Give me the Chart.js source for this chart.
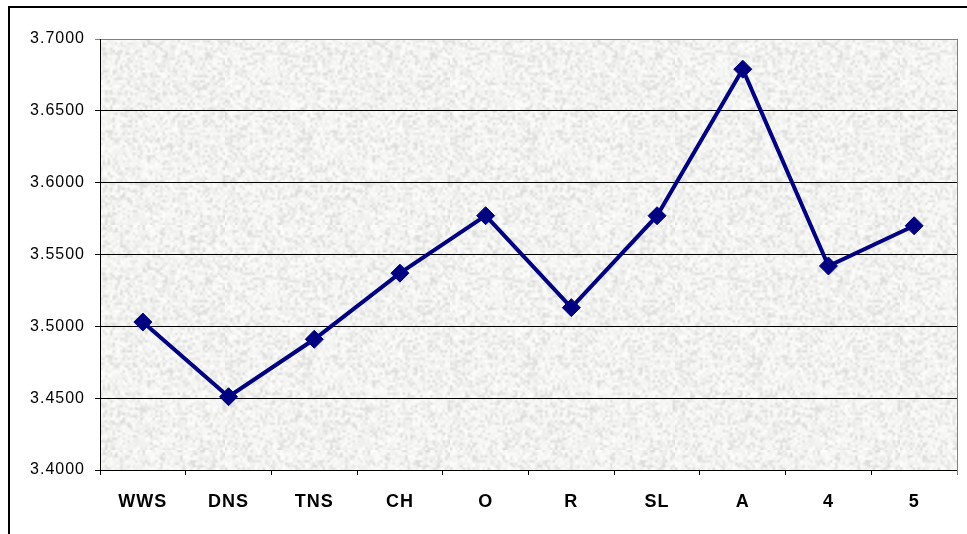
<!DOCTYPE html>
<html>
<head>
<meta charset="utf-8">
<script src="https://cdn.jsdelivr.net/npm/chart.js@4/dist/chart.umd.min.js"></script>
<style>
  html, body { margin: 0; padding: 0; background: #ffffff; }
  #wrap { width: 967px; height: 534px; }
</style>
</head>
<body>
<div id="wrap"><canvas id="c" width="967" height="534"></canvas></div>
<script>
// Categories along the x axis
const categories = ['WWS', 'DNS', 'TNS', 'CH', 'O', 'R', 'SL', 'A', '4', '5'];
// Mean score per category
const scores = [3.503, 3.451, 3.491, 3.537, 3.577, 3.513, 3.577, 3.679, 3.542, 3.570];
// Value axis range and step
const yMin = 3.4;
const yMax = 3.7;
const yStep = 0.05;

// Light granite-like fill for the plot area, built from a small seeded hash
function makeGranite(ctx) {
  const small = document.createElement('canvas');
  small.width = 90; small.height = 90;
  const sc = small.getContext('2d');
  const img = sc.createImageData(90, 90);
  let s = 12345;
  const next = () => { s = (s * 1103515245 + 12345) & 0x7fffffff; return s / 0x7fffffff; };
  for (let i = 0; i < 90 * 90; i++) {
    const r = next();
    const v = Math.round(r < 0.25 ? 218 + next() * 18 : 238 + next() * 17);
    img.data[i * 4] = v; img.data[i * 4 + 1] = v; img.data[i * 4 + 2] = v - 1; img.data[i * 4 + 3] = 255;
  }
  sc.putImageData(img, 0, 0);
  const big = document.createElement('canvas');
  big.width = 225; big.height = 225;
  const bc = big.getContext('2d');
  bc.imageSmoothingEnabled = true;
  bc.drawImage(small, 0, 0, 225, 225);
  return ctx.createPattern(big, 'repeat');
}

const framePlugin = {
  id: 'frame',
  beforeDraw(chart) {
    const { ctx, chartArea: a } = chart;
    ctx.letterSpacing = '1px';
    ctx.save();
    ctx.fillStyle = makeGranite(ctx);
    ctx.fillRect(a.left, a.top, a.right - a.left, a.bottom - a.top);
    ctx.restore();
  },
  beforeDatasetsDraw(chart) {
    const { ctx, chartArea: a } = chart;
    ctx.save();
    ctx.strokeStyle = '#808080';
    ctx.lineWidth = 1;
    ctx.beginPath();
    ctx.moveTo(Math.round(a.right) + 0.5, a.top);
    ctx.lineTo(Math.round(a.right) + 0.5, a.bottom + 5);
    ctx.stroke();
    ctx.restore();
  },
  afterDraw(chart) {
    const ctx = chart.ctx;
    ctx.save();
    ctx.fillStyle = '#000000';
    ctx.fillRect(8, 6, 2, 534);
    ctx.fillRect(8, 6, 967, 2);
    ctx.restore();
  }
};

const yTicks = [];
for (let v = yMin; v <= yMax + 1e-9; v += yStep) yTicks.push(+v.toFixed(4));

new Chart(document.getElementById('c'), {
  type: 'line',
  data: {
    labels: categories,
    datasets: [{
      data: scores,
      borderColor: '#000080',
      backgroundColor: '#000080',
      borderWidth: 4,
      pointStyle: 'rectRot',
      pointRadius: 9,
      pointBorderWidth: 1,
      pointBackgroundColor: '#000080',
      pointBorderColor: '#000080',
      tension: 0,
      fill: false
    }]
  },
  options: {
    responsive: false,
    animation: false,
    devicePixelRatio: 1,
    layout: { padding: { top: 39, right: 6, left: 0, bottom: 0 } },
    plugins: { legend: { display: false }, tooltip: { enabled: false } },
    scales: {
      x: {
        type: 'category',
        offset: true,
        grid: {
          offset: true,
          drawOnChartArea: false,
          drawTicks: true,
          tickLength: 5,
          color: '#000000',
          lineWidth: 1
        },
        border: { display: true, color: '#000000', width: 1 },
        ticks: {
          color: '#000000',
          font: { family: 'Arial, "Liberation Sans", sans-serif', size: 18, weight: 'bold' },
          padding: 16,
          maxRotation: 0,
          autoSkip: false
        },
        afterFit(scale) { scale.height = 64; }
      },
      y: {
        min: yMin,
        max: yMax,
        afterBuildTicks(scale) { scale.ticks = yTicks.map(v => ({ value: v })); },
        grid: {
          drawTicks: true,
          tickLength: 5,
          lineWidth: 1,
          color: (c) => (c.tick && Math.abs(c.tick.value - yMax) < 1e-9) ? '#808080' : '#000000'
        },
        border: { display: true, color: '#000000', width: 1 },
        ticks: {
          color: '#000000',
          font: { family: 'Arial, "Liberation Sans", sans-serif', size: 16 },
          padding: 10,
          callback: (v) => Number(v).toFixed(4)
        },
        afterFit(scale) { scale.width = 100; }
      }
    }
  },
  plugins: [framePlugin]
});
</script>
</body>
</html>
